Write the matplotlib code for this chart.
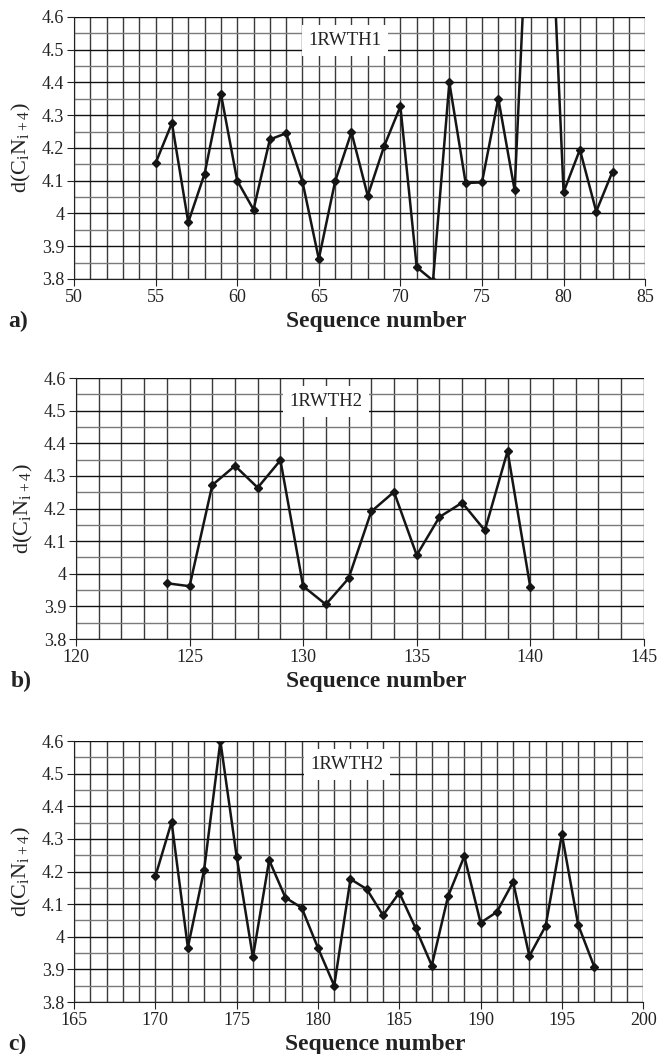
import matplotlib.pyplot as plt
from matplotlib.ticker import MultipleLocator

plt.rcParams['font.family'] = ['Liberation Serif', 'DejaVu Serif']
plt.rcParams['mathtext.fontset'] = 'custom'
plt.rcParams['mathtext.rm'] = 'Liberation Serif'

# panel a) 1RWTH1
seq_a = list(range(55, 84))
d_a = [4.154, 4.276, 3.973, 4.121, 4.366, 4.100, 4.012, 4.226, 4.245, 4.097,
       3.861, 4.098, 4.248, 4.054, 4.205, 4.327, 3.836, 3.795, 4.400, 4.093,
       4.095, 4.351, 4.071, 5.150, 5.200, 4.065, 4.195, 4.006, 4.128]

# panel b) 1RWTH2
seq_b = list(range(124, 141))
d_b = [3.971, 3.962, 4.272, 4.331, 4.264, 4.348, 3.962, 3.906, 3.986, 4.191,
       4.251, 4.057, 4.174, 4.218, 4.133, 4.376, 3.959]

# panel c) 1RWTH2
seq_c = list(range(170, 198))
d_c = [4.185, 4.352, 3.967, 4.205, 4.600, 4.246, 3.937, 4.235, 4.120, 4.089,
       3.966, 3.850, 4.177, 4.146, 4.066, 4.135, 4.027, 3.912, 4.124, 4.247,
       4.043, 4.076, 4.168, 3.941, 4.033, 4.314, 4.037, 3.907]

panels = [
    (seq_a, d_a, (50, 85), '1RWTH1', 'a)', [0.1125, 0.7353, 0.868, 0.2486], 0.475),
    (seq_b, d_b, (120, 145), '1RWTH2', 'b)', [0.1155, 0.3937, 0.863, 0.2476], 0.44),
    (seq_c, d_c, (165, 200), '1RWTH2', 'c)', [0.1125, 0.0493, 0.865, 0.2476], 0.48),
]

fig = plt.figure(figsize=(6.58, 10.54), dpi=100)

for x, y, xlim, name, tag, pos, tx in panels:
    ax = fig.add_axes(pos)
    ax.set_xlim(*xlim)
    ax.set_ylim(3.8, 4.6)
    ax.xaxis.set_major_locator(MultipleLocator(5))
    ax.xaxis.set_minor_locator(MultipleLocator(1))
    ax.yaxis.set_major_locator(MultipleLocator(0.1))
    ax.yaxis.set_minor_locator(MultipleLocator(0.05))
    ax.grid(which='major', axis='y', color='#111111', lw=1.0)
    ax.grid(which='minor', axis='y', color='#7a7a7a', lw=1.0)
    ax.grid(which='both', axis='x', color='#3a3a3a', lw=1.0)
    ax.set_axisbelow(True)
    for s in ['top', 'right']:
        ax.spines[s].set_visible(False)
    for s in ['left', 'bottom']:
        ax.spines[s].set_color('#222222')
    ax.tick_params(which='major', direction='out', length=5, labelsize=13,
                   colors='#222222', pad=2)
    ax.tick_params(which='minor', length=0)
    ax.set_yticks([3.8, 3.9, 4.0, 4.1, 4.2, 4.3, 4.4, 4.5, 4.6])
    ax.set_yticklabels(['3.8', '3.9', '4', '4.1', '4.2', '4.3', '4.4', '4.5', '4.6'])

    ax.plot(x, y, color='#151515', lw=1.8, marker='D', ms=4.5, clip_on=True)

    ax.text(tx, 0.91, name, transform=ax.transAxes, ha='center', va='center',
            fontsize=13.5, color='#222222',
            bbox=dict(boxstyle='square,pad=0.35', fc='white', ec='none'))

    ax.set_ylabel(r'd(C$_\mathregular{i}$N$_\mathregular{i+4}$)', fontsize=16,
                  color='#222222', labelpad=6)
    ax.set_xlabel('Sequence number', fontsize=17, fontweight='bold',
                  color='#222222', labelpad=4)
    ax.xaxis.set_label_coords(0.529, -0.163)
    ax.xaxis.label.set_va('center')
    ax.text(-0.115, -0.163, tag, transform=ax.transAxes, fontsize=17,
            fontweight='bold', va='center', ha='left', color='#222222')

fig.savefig('out.png', dpi=100)
